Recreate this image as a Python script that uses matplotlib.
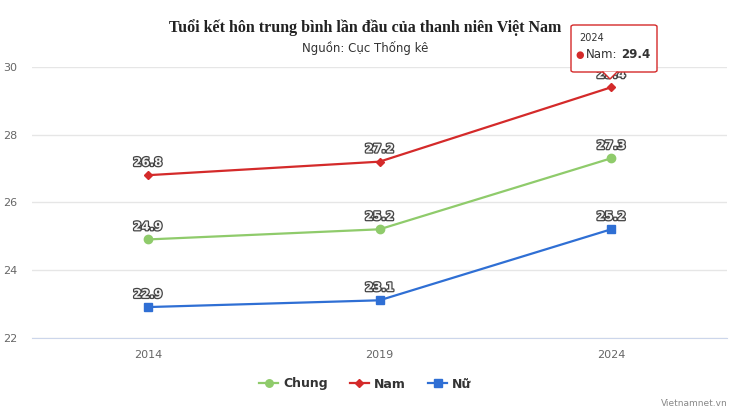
import matplotlib
matplotlib.use("Agg")
import matplotlib.pyplot as plt
import matplotlib.patheffects as pe
from matplotlib.patches import FancyBboxPatch, Polygon

years = ["2014", "2019", "2024"]
chung = [24.9, 25.2, 27.3]
nam = [26.8, 27.2, 29.4]
nu = [22.9, 23.1, 25.2]
yticks = [22, 24, 26, 28, 30]

title = "Tuổi kết hôn trung bình lần đầu của thanh niên Việt Nam"
subtitle = "Nguồn: Cục Thống kê"

c_green = "#8fcb6b"
c_red = "#d42a2a"
c_blue = "#2f6fd4"

fig = plt.figure(figsize=(7.38, 4.16), dpi=100)
ax = fig.add_axes([32/738, 1-337.5/416, (727-32)/738, (337.5-67)/416])
x = list(range(len(years)))

series = [
    ("Chung", chung, c_green, "o", 6),
    ("Nam", nam, c_red, "D", 4),
    ("Nữ", nu, c_blue, "s", 6),
]
for name, vals, col, mk, ms in series:
    ax.plot(x, vals, color=col, lw=1.6, marker=mk, ms=ms, mec=col, mfc=col, label=name, zorder=3)
    for xi, v in zip(x, vals):
        ax.annotate(f"{v}", (xi, v), xytext=(0, 4.5), textcoords="offset points",
                    ha="center", va="bottom", fontsize=8.5, fontweight="bold",
                    color="#f4f4f4", family="DejaVu Sans", zorder=4,
                    path_effects=[pe.withStroke(linewidth=1.8, foreground="#444444")])

ax.set_xlim(-0.5, 2.5)
ax.set_ylim(22, 30)
ax.set_xticks(x)
ax.set_xticklabels(years)
ax.set_yticks(yticks)
ax.grid(axis="y", color="#e6e6e6", lw=1)
ax.set_axisbelow(True)
for s in ["top", "right", "left"]:
    ax.spines[s].set_visible(False)
ax.spines["bottom"].set_color("#ccd6eb")
ax.tick_params(axis="both", length=0, labelsize=8, colors="#666666")
ax.tick_params(axis="x", pad=9)
ax.tick_params(axis="y", pad=0)
for lab in ax.get_yticklabels():
    lab.set_horizontalalignment("left")
    lab.set_x(-29/695)

fig.text(0.495, 1-28/416, title, ha="center", va="center", fontsize=11.5,
         fontweight="bold", family="Liberation Serif", color="#222222")
fig.text(0.495, 1-48/416, subtitle, ha="center", va="center", fontsize=8.5,
         color="#333333", family="DejaVu Sans")

leg = fig.legend(loc="center", bbox_to_anchor=(0.495, 1-384/416), ncol=3, frameon=False,
                 fontsize=9, handlelength=1.5, columnspacing=1.8, handletextpad=0.4,
                 markerscale=0.9)
for t in leg.get_texts():
    t.set_fontweight("bold")
    t.set_color("#333333")

fig.text(728/738, 1-404/416, "Vietnamnet.vn", ha="right", va="center", fontsize=6.5,
         color="#888888")

# tooltip
x0, y0, x1, y1 = 571/738, 1-72/416, 657/738, 1-25/416
box = FancyBboxPatch((x0, y0), x1-x0, y1-y0, boxstyle="round,pad=0,rounding_size=0.004",
                     transform=fig.transFigure, fc="white", ec=c_red, lw=1, zorder=10)
fig.add_artist(box)
tri = Polygon([(603/738, y0+0.001), (617/738, y0+0.001), (610/738, 1-79/416)],
              closed=True, transform=fig.transFigure, fc="white", ec="none", zorder=11)
fig.add_artist(tri)
fig.add_artist(plt.Line2D([603/738, 610/738, 617/738], [y0, 1-79/416, y0],
                          transform=fig.transFigure, color=c_red, lw=1, zorder=12))
fig.text(579/738, 1-38/416, "2024", fontsize=7, color="#333333", va="center", zorder=13)
fig.text(575/738, 1-55/416, "●", fontsize=7, color=c_red, va="center", zorder=13)
fig.text(586/738, 1-55/416, "Nam:", fontsize=8.5, color="#333333", va="center", zorder=13)
fig.text(621/738, 1-55/416, "29.4", fontsize=8.5, color="#333333", va="center",
         fontweight="bold", zorder=13)

fig.savefig("out.png", dpi=100)
